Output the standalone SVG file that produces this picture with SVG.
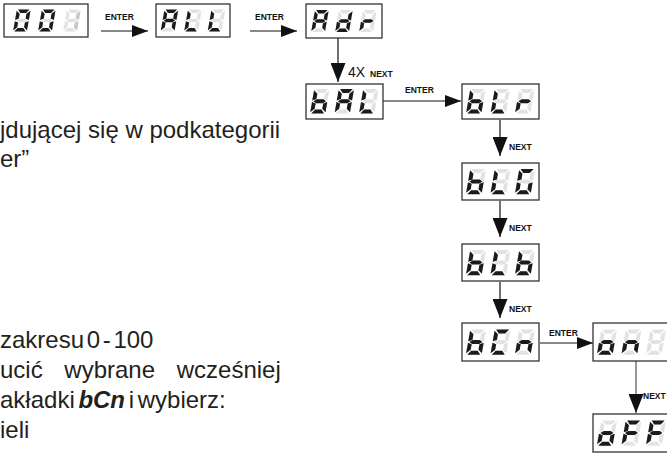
<svg xmlns="http://www.w3.org/2000/svg" xmlns:xlink="http://www.w3.org/1999/xlink" width="667" height="460" viewBox="0 0 667 460">
<style>
.box{fill:#fff;stroke:#333;stroke-width:1.3}
.off{fill:#e2e2e2}
.on{fill:#1b1b1b}
.dim{fill:#c6c6c6}
.con{fill:none;stroke:#111;stroke-width:1.2}
.lbl{font-family:"Liberation Sans",Arial,sans-serif;font-weight:bold;font-size:8.5px;fill:#111}
.txt{font-family:"Liberation Sans",Arial,sans-serif;font-size:24px;fill:#231f20}
.bi{font-weight:bold;font-style:italic}
</style>
<defs>
<path id="sa" d="M1.3 0H13.7L10.6 3.8H4.4Z"/>
<path id="sd" d="M1.3 24H13.7L10.6 20.2H4.4Z"/>
<path id="sf" d="M0 1.3L3.8 4.6V9.9L0 11.3Z"/>
<path id="sb" d="M15 1.3L11.2 4.6V9.9L15 11.3Z"/>
<path id="se" d="M0 12.7L3.8 14.1V19.4L0 22.7Z"/>
<path id="sc" d="M15 12.7L11.2 14.1V19.4L15 22.7Z"/>
<path id="sg" d="M1.3 12L4.2 10.1H10.8L13.7 12L10.8 13.9H4.2Z"/>
<g id="c8"><use href="#sa"/><use href="#sb"/><use href="#sc"/><use href="#sd"/><use href="#se"/><use href="#sf"/><use href="#sg"/></g>
<g id="c0"><use href="#sa"/><use href="#sb"/><use href="#sc"/><use href="#sd"/><use href="#se"/><use href="#sf"/></g>
<g id="c1"><use href="#sb"/><use href="#sc"/></g>
<g id="cA"><use href="#sa"/><use href="#sb"/><use href="#sc"/><use href="#se"/><use href="#sf"/><use href="#sg"/></g>
<g id="cL"><use href="#sd"/><use href="#se"/><use href="#sf"/></g>
<g id="cd"><use href="#sb"/><use href="#sc"/><use href="#sd"/><use href="#se"/><use href="#sg"/></g>
<g id="cr"><use href="#se"/><use href="#sg"/></g>
<g id="cb"><use href="#sc"/><use href="#sd"/><use href="#se"/><use href="#sf"/><use href="#sg"/></g>
<g id="cG"><use href="#sa"/><use href="#sc"/><use href="#sd"/><use href="#se"/><use href="#sf"/></g>
<g id="cC"><use href="#sa"/><use href="#sd"/><use href="#se"/><use href="#sf"/></g>
<g id="cn"><use href="#sc"/><use href="#se"/><use href="#sg"/></g>
<g id="co"><use href="#sc"/><use href="#sd"/><use href="#se"/><use href="#sg"/></g>
<g id="cF"><use href="#sa"/><use href="#se"/><use href="#sf"/><use href="#sg"/></g>
<marker id="ah" markerUnits="userSpaceOnUse" markerWidth="16" markerHeight="12" refX="16" refY="6" orient="auto"><path d="M0 0L16 6L0 12Z" fill="#111"/></marker>
<marker id="ahd" markerUnits="userSpaceOnUse" markerWidth="19" markerHeight="15" refX="19" refY="7.5" orient="auto"><path d="M0 0L19 7.5L0 15Z" fill="#111"/></marker>
</defs>

<g id="text">
<text class="txt" x="0" y="138">jdującej się w podkategorii</text>
<text class="txt" x="0" y="167">er”</text>
<text class="txt" x="0" y="348" style="word-spacing:-4px">zakresu 0 - 100</text>
<text class="txt" x="0" y="378" style="word-spacing:15px">ucić wybrane wcześniej</text>
<text class="txt" x="0" y="408" style="word-spacing:-3px">akładki <tspan class="bi">bCn</tspan> i wybierz:</text>
<text class="txt" x="0" y="438">ieli</text>
</g>

<g id="connectors">
<path class="con" d="M101 31H148" marker-end="url(#ah)"/>
<path class="con" d="M250 31H297" marker-end="url(#ah)"/>
<path class="con" d="M338 38V82" marker-end="url(#ahd)"/>
<path class="con" d="M383 101H461" marker-end="url(#ah)"/>
<path class="con" d="M500 120V156" marker-end="url(#ahd)"/>
<path class="con" d="M500 201V237" marker-end="url(#ahd)"/>
<path class="con" d="M500 282V318" marker-end="url(#ahd)"/>
<path class="con" d="M540 343H593" marker-end="url(#ah)"/>
<path class="con" d="M636 361V413" marker-end="url(#ahd)" style="stroke:#555"/>
<text class="lbl" x="105" y="20">ENTER</text>
<text class="lbl" x="255" y="20">ENTER</text>
<text x="348" y="77" style="font-family:'Liberation Sans',Arial,sans-serif;font-size:14px;fill:#111">4X</text>
<text class="lbl" x="370" y="77">NEXT</text>
<text class="lbl" x="405" y="93">ENTER</text>
<text class="lbl" x="509" y="150">NEXT</text>
<text class="lbl" x="509" y="231">NEXT</text>
<text class="lbl" x="509" y="312">NEXT</text>
<text class="lbl" x="549" y="336">ENTER</text>
<text class="lbl" x="643" y="399">NEXT</text>
</g>

<g id="d001">
<rect class="box" x="4" y="4" width="84" height="33"/>
<g transform="translate(16.9,9.5) scale(0.92) skewX(-10)"><use href="#c8" class="off"/><use href="#c0" class="on"/></g>
<g transform="translate(41.9,9.5) scale(0.92) skewX(-10)"><use href="#c8" class="off"/><use href="#c0" class="on"/></g>
<g transform="translate(66.9,9.5) scale(0.92) skewX(-10)"><use href="#c8" class="off"/><use href="#c1" class="dim"/></g>
</g>
<g id="dALL">
<rect class="box" x="156" y="4" width="74" height="33"/>
<g transform="translate(164.5,9.5) scale(0.92) skewX(-10)"><use href="#c8" class="off"/><use href="#cA" class="on"/></g>
<g transform="translate(188,9.5) scale(0.92) skewX(-10)"><use href="#c8" class="off"/><use href="#cL" class="on"/></g>
<g transform="translate(211.5,9.5) scale(0.92) skewX(-10)"><use href="#c8" class="off"/><use href="#cL" class="on"/></g>
</g>
<g id="dAdr">
<rect class="box" x="306" y="4" width="76" height="34"/>
<g transform="translate(315,10) scale(0.92) skewX(-10)"><use href="#c8" class="off"/><use href="#cA" class="on"/></g>
<g transform="translate(339,10) scale(0.92) skewX(-10)"><use href="#c8" class="off"/><use href="#cd" class="on"/></g>
<g transform="translate(363,10) scale(0.92) skewX(-10)"><use href="#c8" class="off"/><use href="#cr" class="on"/></g>
</g>
<g id="dbAL">
<rect class="box" x="306" y="84" width="77" height="35"/>
<g transform="translate(314.3,89) scale(1.02) skewX(-10)"><use href="#c8" class="off"/><use href="#cb" class="on"/></g>
<g transform="translate(338.8,89) scale(1.02) skewX(-10)"><use href="#c8" class="off"/><use href="#cA" class="on"/></g>
<g transform="translate(363.3,89) scale(1.02) skewX(-10)"><use href="#c8" class="off"/><use href="#cL" class="on"/></g>
</g>
<g id="dbLr">
<rect class="box" x="462" y="84" width="77" height="35"/>
<g transform="translate(470.3,89) scale(1.02) skewX(-10)"><use href="#c8" class="off"/><use href="#cb" class="on"/></g>
<g transform="translate(494.8,89) scale(1.02) skewX(-10)"><use href="#c8" class="off"/><use href="#cL" class="on"/></g>
<g transform="translate(519.3,89) scale(1.02) skewX(-10)"><use href="#c8" class="off"/><use href="#cr" class="on"/></g>
</g>
<g id="dbLG">
<rect class="box" x="462" y="163" width="77" height="37"/>
<g transform="translate(470.3,169) scale(1.05) skewX(-10)"><use href="#c8" class="off"/><use href="#cb" class="on"/></g>
<g transform="translate(494.8,169) scale(1.05) skewX(-10)"><use href="#c8" class="off"/><use href="#cL" class="on"/></g>
<g transform="translate(519.3,169) scale(1.05) skewX(-10)"><use href="#c8" class="off"/><use href="#cG" class="on"/></g>
</g>
<g id="dbLb">
<rect class="box" x="462" y="244" width="77" height="37"/>
<g transform="translate(470.3,250) scale(1.05) skewX(-10)"><use href="#c8" class="off"/><use href="#cb" class="on"/></g>
<g transform="translate(494.8,250) scale(1.05) skewX(-10)"><use href="#c8" class="off"/><use href="#cL" class="on"/></g>
<g transform="translate(519.3,250) scale(1.05) skewX(-10)"><use href="#c8" class="off"/><use href="#cb" class="on"/></g>
</g>
<g id="dbCn">
<rect class="box" x="462" y="323" width="77" height="38"/>
<g transform="translate(470.3,329.5) scale(1.05) skewX(-10)"><use href="#c8" class="off"/><use href="#cb" class="on"/></g>
<g transform="translate(494.8,329.5) scale(1.05) skewX(-10)"><use href="#c8" class="off"/><use href="#cC" class="on"/></g>
<g transform="translate(519.3,329.5) scale(1.05) skewX(-10)"><use href="#c8" class="off"/><use href="#cn" class="on"/></g>
</g>
<g id="don">
<rect class="box" x="593" y="323" width="80" height="38"/>
<g transform="translate(601.3,329.5) scale(1.05) skewX(-10)"><use href="#c8" class="off"/><use href="#co" class="on"/></g>
<g transform="translate(625.8,329.5) scale(1.05) skewX(-10)"><use href="#c8" class="off"/><use href="#cn" class="on"/></g>
<g transform="translate(650.3,329.5) scale(1.05) skewX(-10)"><use href="#c8" class="off"/></g>
</g>
<g id="doFF">
<rect class="box" x="593" y="414" width="80" height="38"/>
<g transform="translate(601.3,420.5) scale(1.05) skewX(-10)"><use href="#c8" class="off"/><use href="#co" class="on"/></g>
<g transform="translate(625.8,420.5) scale(1.05) skewX(-10)"><use href="#c8" class="off"/><use href="#cF" class="on"/></g>
<g transform="translate(650.3,420.5) scale(1.05) skewX(-10)"><use href="#c8" class="off"/><use href="#cF" class="on"/></g>
</g>
</svg>
